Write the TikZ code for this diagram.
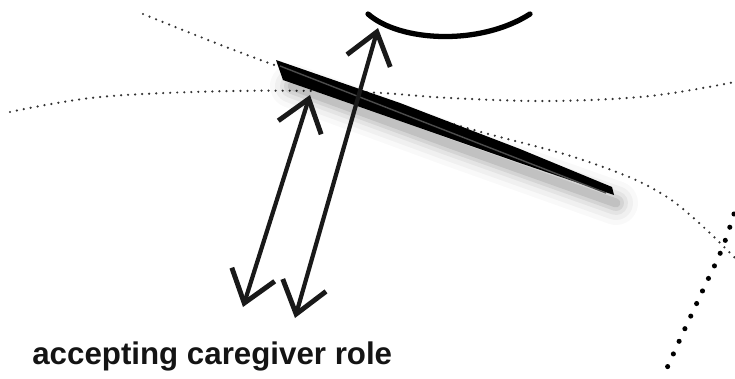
\documentclass[tikz,border=0pt]{standalone}
\usepackage{fontspec}
\newfontfamily\labelfont{Liberation Sans}
\usetikzlibrary{arrows.meta}

\begin{document}
\begin{tikzpicture}[x=0.02cm,y=-0.02cm,
 dotline/.style={black!80,line width=1.4pt,line cap=round,dash pattern=on 0pt off 4pt},
 bigdots/.style={black,line width=2.9pt,line cap=round,dash pattern=on 0pt off 7.9pt},
 arr/.style={{Straight Barb[length=6mm,width=9mm,line width=2.8pt]}-{Straight Barb[length=6mm,width=9mm,line width=2.8pt]},line width=2.4pt,black!90},
 lbl/.style={font=\labelfont\bfseries\fontsize{17.8}{20}\selectfont,text=black!92,anchor=base west,inner sep=0pt}]
\useasboundingbox (0,0) rectangle (735,379);
% dotted guide curves
\draw[dotline] plot[smooth,tension=0.6] coordinates {(143,14) (277,66) (450,123) (583,160) (667,197) (735,258)};
\draw[dotline] plot[smooth,tension=0.6] coordinates {(10,112) (100,97) (233,91) (360,92) (450,98) (550,101) (650,96) (735,82)};
\draw[bigdots] plot[smooth,tension=0.6] coordinates {(734,214) (722,249) (702,292) (682,335) (662,379)};
% soft shadow under the bar
\foreach \w/\o in {44/0.025,34/0.035,24/0.05,16/0.07,9/0.09}{
 \draw[black,opacity=\o,line width=\w*0.2mm,line cap=round] (292,86) -- (450,144) -- (616,203);}
% the bar
\fill[black] (276,60) -- (400,103) -- (520,149) -- (612,187) -- (614,195) -- (520,163) -- (400,121) -- (283,80) -- cycle;
\draw[black!70,line width=0.8pt] (280,66) -- (606,193);
% arrows
\coordinate (a1) at (243,307); \coordinate (a2) at (310,95);
\coordinate (b1) at (295,318); \coordinate (b2) at (378,28);
\draw[arr] (a1) -- (a2);
\draw[arr] (b1) -- (b2);
% curve at the top
\draw[black,line width=3pt,line cap=round] (368,14) .. controls (400,42) and (480,46) .. (530,14);
\node[lbl] (role) at (32,364) {accepting caregiver role};
\end{tikzpicture}
\end{document}
